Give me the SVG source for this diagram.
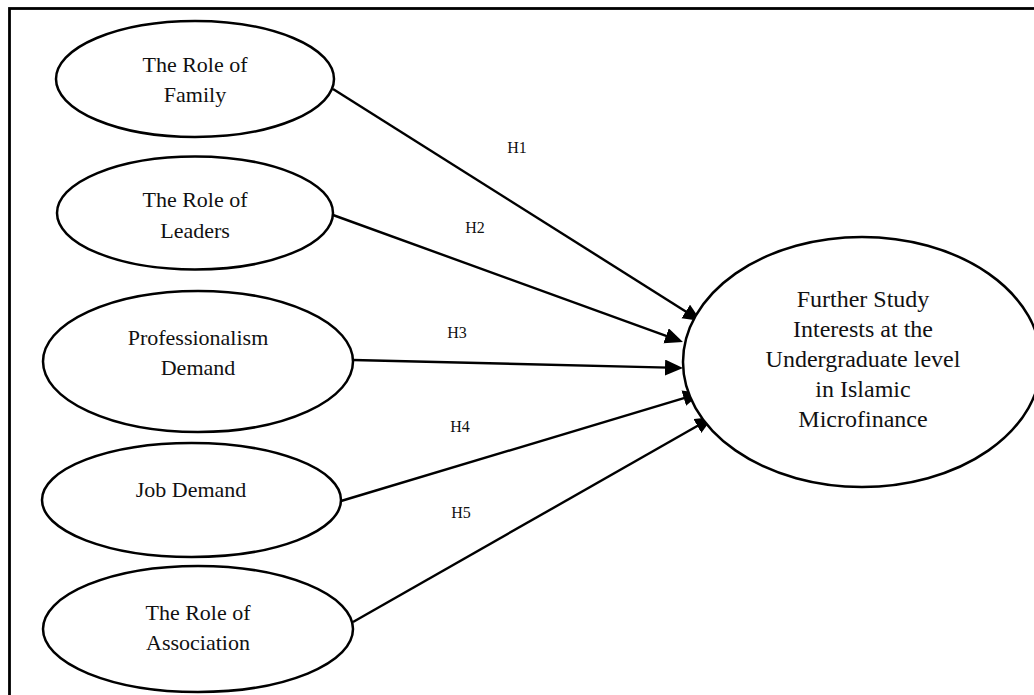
<svg xmlns="http://www.w3.org/2000/svg" width="1034" height="695" viewBox="0 0 1034 695">
<style>
.node{fill:#fff;stroke:#000;stroke-width:2.5}
.lt{font-family:"Liberation Serif",serif;font-size:22px;fill:#111;text-anchor:middle}
.rt{font-family:"Liberation Serif",serif;font-size:24px;fill:#111;text-anchor:middle}
.hl{font-family:"Liberation Serif",serif;font-size:16px;fill:#111;text-anchor:middle}
.edge{stroke:#000;stroke-width:2.4;fill:none;marker-end:url(#ah)}
</style>
<defs>
<marker id="ah" markerUnits="userSpaceOnUse" markerWidth="20" markerHeight="18" refX="14" refY="8" orient="auto">
<path d="M0,0 L18,8 L0,16 z" fill="#000"/>
</marker>
</defs>
<rect x="9.5" y="8.5" width="1040" height="700" fill="#fff" stroke="#000" stroke-width="2.8"/>
<g id="connectors">
<line class="edge" x1="333" y1="89" x2="697.6" y2="318.9"/>
<line class="edge" x1="333" y1="215" x2="679.2" y2="340.6"/>
<line class="edge" x1="353" y1="360" x2="679" y2="367.9"/>
<line class="edge" x1="341" y1="501" x2="697.2" y2="394.1"/>
<line class="edge" x1="353" y1="622" x2="709.5" y2="419"/>
<text class="hl" x="517" y="153">H1</text>
<text class="hl" x="475" y="233">H2</text>
<text class="hl" x="457" y="338">H3</text>
<text class="hl" x="460" y="432">H4</text>
<text class="hl" x="461" y="518">H5</text>
</g>
<g id="family">
<ellipse class="node" cx="195" cy="79" rx="139" ry="58"/>
<text class="lt" x="195" y="72">The Role of</text>
<text class="lt" x="195" y="102">Family</text>
</g>
<g id="leaders">
<ellipse class="node" cx="195" cy="213" rx="138" ry="56.5"/>
<text class="lt" x="195" y="207">The Role of</text>
<text class="lt" x="195" y="238">Leaders</text>
</g>
<g id="professionalism">
<ellipse class="node" cx="198" cy="361.5" rx="155" ry="70.5"/>
<text class="lt" x="198" y="345">Professionalism</text>
<text class="lt" x="198" y="375">Demand</text>
</g>
<g id="job">
<ellipse class="node" cx="191.5" cy="500" rx="149.5" ry="57"/>
<text class="lt" x="191" y="497">Job Demand</text>
</g>
<g id="association">
<ellipse class="node" cx="198" cy="629" rx="155" ry="63"/>
<text class="lt" x="198" y="620">The Role of</text>
<text class="lt" x="198" y="650">Association</text>
</g>
<g id="interest">
<ellipse class="node" cx="862" cy="362" rx="179" ry="125"/>
<text class="rt" x="863" y="307">Further Study</text>
<text class="rt" x="863" y="337">Interests at the</text>
<text class="rt" x="863" y="367">Undergraduate level</text>
<text class="rt" x="863" y="397">in Islamic</text>
<text class="rt" x="863" y="427">Microfinance</text>
</g>
</svg>
